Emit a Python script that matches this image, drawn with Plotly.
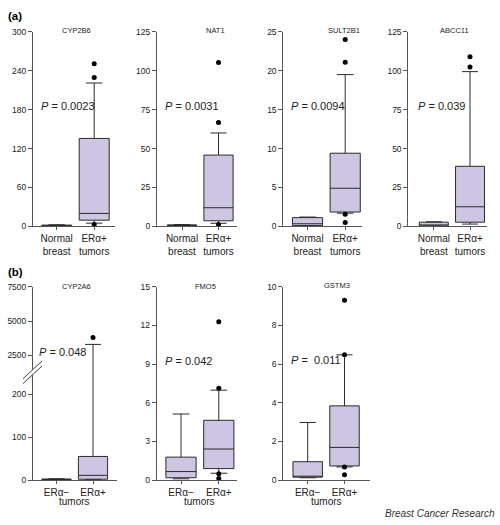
import plotly.graph_objects as go

W, H = 500, 525

# ---------------- data ----------------
genes_a = ["CYP2B6", "NAT1", "SULT2B1", "ABCC11"]
p_a = ["0.0023", "0.0031", "0.0094", "0.039"]
ymax_a = [300, 125, 25, 125]
dtick_a = [60, 25, 5, 25]
cats_a = ["Normal<br>breast", "ERα+<br>tumors"]

normal_lo = [0.1, 0.1, 0.05, 0.1]
normal_q1 = [0.3, 0.2, 0.1, 0.3]
normal_med = [1.0, 0.5, 0.34, 0.8]
normal_q3 = [2.0, 1.0, 1.13, 2.7]
normal_hi = [2.5, 1.2, 1.2, 3.0]

tumor_lo = [5, 2, 1.7, 1.5]
tumor_q1 = [9.6, 3.6, 1.85, 2.7]
tumor_med = [20, 12, 4.9, 12.6]
tumor_q3 = [135.6, 45.8, 9.4, 38.6]
tumor_hi = [221, 60, 19.5, 99.4]
tumor_out = [[250.6, 229.5, 3], [105.2, 66.8, 1.2], [24, 21.1, 1.55, 0.5], [109, 102.3]]

genes_b = ["CYP2A6", "FMO5", "GSTM3"]
p_b = ["0.048", "0.042", " 0.011"]
ymax_b = [7500, 15, 10]
dtick_b = [None, 3, 2]
cats_b = ["ERα−", "ERα+"]
cyp2a6_ticks = [0, 100, 200, 2500, 5000, 7500]

neg_lo = [0.2, 0.1, 0.12]
neg_q1 = [0.5, 0.18, 0.15]
neg_med = [1.0, 0.66, 0.2]
neg_q3 = [2.5, 1.78, 0.95]
neg_hi = [3.0, 5.13, 2.98]

pos_lo = [0.5, 0.53, 0.68]
pos_q1 = [2, 0.89, 0.73]
pos_med = [11, 2.41, 1.69]
pos_q3 = [55, 4.64, 3.84]
pos_hi = [3307, 6.98, 6.48]
pos_out = [[3805], [12.28, 7.13, 0.5, 0.13], [9.3, 6.48, 0.68, 0.27]]

# ---------------- styling ----------------
FILL = "#cdc5e1"
LINE = "#2a2a2a"
AX = "#555555"
TXT = "#222222"
FONT = "Liberation Sans, Arial, sans-serif"


def px(x):
    return x / W


def py(y):
    return 1 - y / H


# broken axis for CYP2A6: linear 0-200 below the break, compressed above it
def brk(v):
    if v <= 2000:
        return v
    return 290 + (v - 2500) * 0.03196


# panel geometry in pixels: (axis left, axis right, centre of cat 0, spacing)
geo_a = [(33, 115, 56.7, 37.5), (157, 237, 182, 36.5), (283.3, 362, 307.5, 37.7), (408.3, 487, 433.8, 36.2)]
geo_b = [(33, 117, 56.5, 36.5), (156.7, 237, 181, 37.8), (283.3, 370, 307.7, 36.8)]
ya_px = (225.7, 27.3)
yb_px = (484.3, 287.3)
title_a = [(76, 26), (215, 26), (344, 26), (454, 26)]
title_b = [(76, 286.5), (205, 286.5), (337, 285.5)]
pval_a = [(39, 103), (163, 103), (289, 103), (416, 103)]
pval_b = [(37, 354), (163, 362.7), (289, 362)]

fig = go.Figure()
layout = dict(width=W, height=H, margin=dict(l=0, r=0, t=0, b=0), autosize=False,
              paper_bgcolor="white", plot_bgcolor="white", showlegend=False,
              font=dict(family=FONT, color=TXT))
annotations = []
shapes = []

panels = []
for i in range(4):
    panels.append(dict(geo=geo_a[i], ypx=ya_px, gene=genes_a[i], p=p_a[i], cats=cats_a,
                       ymax=ymax_a[i], dtick=dtick_a[i],
                       g0=(normal_lo[i], normal_q1[i], normal_med[i], normal_q3[i], normal_hi[i]),
                       g1=(tumor_lo[i], tumor_q1[i], tumor_med[i], tumor_q3[i], tumor_hi[i]),
                       out=tumor_out[i], title=title_a[i], pv=pval_a[i], broken=False))
for i in range(3):
    panels.append(dict(geo=geo_b[i], ypx=yb_px, gene=genes_b[i], p=p_b[i], cats=cats_b,
                       ymax=ymax_b[i], dtick=dtick_b[i],
                       g0=(neg_lo[i], neg_q1[i], neg_med[i], neg_q3[i], neg_hi[i]),
                       g1=(pos_lo[i], pos_q1[i], pos_med[i], pos_q3[i], pos_hi[i]),
                       out=pos_out[i], title=title_b[i], pv=pval_b[i], broken=(i == 0)))

for k, pn in enumerate(panels):
    n = k + 1
    xa = "x" if n == 1 else f"x{n}"
    ya = "y" if n == 1 else f"y{n}"
    xl, xr, c0, s = pn["geo"]
    yb, yt = pn["ypx"]
    f = brk if pn["broken"] else (lambda v: v)
    stats = list(zip(pn["g0"], pn["g1"]))
    lo, q1, med, q3, hi = [[f(v) for v in pair] for pair in stats]
    fig.add_trace(go.Box(x=[0, 1], lowerfence=lo, q1=q1, median=med, q3=q3, upperfence=hi,
                         width=0.8, whiskerwidth=0.55, fillcolor=FILL,
                         line=dict(color=LINE, width=1), boxpoints=False,
                         hoverinfo="skip", xaxis=xa, yaxis=ya))
    fig.add_trace(go.Scatter(x=[1] * len(pn["out"]), y=[f(v) for v in pn["out"]], mode="markers",
                             marker=dict(color="black", size=5), cliponaxis=False,
                             hoverinfo="skip", xaxis=xa, yaxis=ya))
    xkey = "xaxis" if n == 1 else f"xaxis{n}"
    ykey = "yaxis" if n == 1 else f"yaxis{n}"
    layout[xkey] = dict(domain=[px(xl), px(xr)], range=[(xl - c0) / s, (xr - c0) / s],
                        anchor=ya, showline=True, linecolor=AX, linewidth=1,
                        ticks="outside", ticklen=3, tickcolor=AX,
                        tickvals=[0, 1], ticktext=pn["cats"],
                        tickfont=dict(size=10, color=TXT, family=FONT),
                        showgrid=False, zeroline=False, fixedrange=True)
    yd = dict(domain=[py(yb), py(yt)], anchor=xa, showline=True, linecolor=AX, linewidth=1,
              ticks="outside", ticklen=4, tickcolor=AX,
              tickfont=dict(size=8.5, color="#222222", family=FONT),
              showgrid=False, zeroline=False, fixedrange=True)
    if pn["broken"]:
        yd.update(range=[0, brk(7500)], tickmode="array",
                  tickvals=[brk(v) for v in cyp2a6_ticks], ticktext=[str(v) for v in cyp2a6_ticks])
    else:
        yd.update(range=[0, pn["ymax"]], dtick=pn["dtick"], tick0=0)
    layout[ykey] = yd
    annotations.append(dict(text=pn["gene"], x=px(pn["title"][0]), y=py(pn["title"][1]),
                            xref="paper", yref="paper", showarrow=False,
                            xanchor="center", yanchor="middle",
                            font=dict(size=7.5, color="#222222", family=FONT)))
    annotations.append(dict(text=f"<i>P</i> = {pn['p']}", x=px(pn["pv"][0]), y=py(pn["pv"][1]),
                            xref="paper", yref="paper", showarrow=False,
                            xanchor="left", yanchor="middle",
                            font=dict(size=11, color=TXT, family=FONT)))
    if k >= 4:
        annotations.append(dict(text="tumors", x=0.5, y=py(506), xref=xa, yref="paper",
                                showarrow=False, xanchor="center", yanchor="middle",
                                font=dict(size=10, color=TXT, family=FONT)))

# axis-break marks on CYP2A6
x1, x2 = 23, 42
ya1, ya2 = 381, 363
off = 5
shapes.append(dict(type="path", xref="paper", yref="paper",
                   path=f"M {px(x1)} {py(ya1)} L {px(x2)} {py(ya2)} L {px(x2)} {py(ya2 + off)} L {px(x1)} {py(ya1 + off)} Z",
                   fillcolor="white", line=dict(width=0), layer="above"))
for o in (0, off):
    shapes.append(dict(type="line", xref="paper", yref="paper",
                       x0=px(x1), y0=py(ya1 + o), x1=px(x2), y1=py(ya2 + o),
                       line=dict(color="#444444", width=1), layer="above"))

annotations.append(dict(text="<b>(a)</b>", x=px(6), y=py(11), xref="paper", yref="paper",
                        showarrow=False, xanchor="left", yanchor="middle",
                        font=dict(size=11.5, color="black", family=FONT)))
annotations.append(dict(text="<b>(b)</b>", x=px(6), y=py(272), xref="paper", yref="paper",
                        showarrow=False, xanchor="left", yanchor="middle",
                        font=dict(size=11.5, color="black", family=FONT)))
annotations.append(dict(text="<i>Breast Cancer Research</i>", x=px(497), y=py(518),
                        xref="paper", yref="paper", showarrow=False,
                        xanchor="right", yanchor="middle",
                        font=dict(size=10, color="#333333", family=FONT)))

layout["annotations"] = annotations
layout["shapes"] = shapes
fig.update_layout(**layout)
fig.write_html("out.html", config={"displayModeBar": False},
               post_script="document.body.style.margin='0px';document.body.style.overflow='hidden';")
